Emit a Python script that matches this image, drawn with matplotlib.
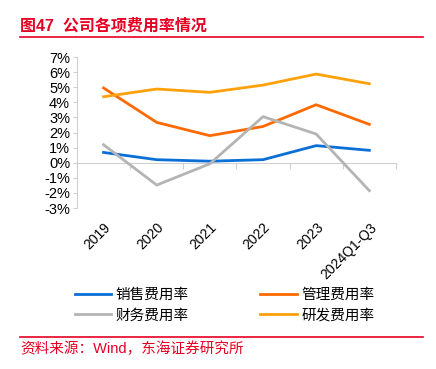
import matplotlib.pyplot as plt
import numpy as np
from matplotlib.ticker import FuncFormatter

plt.rcParams['font.family'] = ['Liberation Sans', 'Noto Sans CJK SC', 'DejaVu Sans']

# 数据（单位：%）
years = ["2019", "2020", "2021", "2022", "2023", "2024Q1-Q3"]
sales = [0.68, 0.20, 0.10, 0.20, 1.13, 0.82]
manage = [4.95, 2.67, 1.79, 2.40, 3.84, 2.54]
finance = [1.19, -1.48, -0.07, 3.05, 1.90, -1.85]
rnd = [4.37, 4.88, 4.66, 5.14, 5.87, 5.23]

RED = "#e60023"
GRID = "#d0d0d0"


def main():
    fig = plt.figure(figsize=(4.36, 3.69), dpi=100)
    ax = fig.add_axes([0.1766, 0.4363, 0.7314, 0.4092])

    x = np.arange(len(years))
    l1, = ax.plot(x, sales, color="#0a6fd6", lw=2, label="销售费用率")
    l2, = ax.plot(x, manage, color="#ff6a00", lw=2, label="管理费用率")
    l3, = ax.plot(x, finance, color="#b4b4b4", lw=2, label="财务费用率")
    l4, = ax.plot(x, rnd, color="#ffa10a", lw=2, label="研发费用率")

    ymin, ymax = -3, 7
    ax.set_ylim(ymin, ymax)
    ax.set_xlim(-0.5, len(years) - 0.5)
    ax.set_yticks(np.arange(ymin, ymax + 1, 1))
    ax.yaxis.set_major_formatter(FuncFormatter(lambda v, p: f"{v:.0f}%"))
    ax.tick_params(axis="y", length=3, color=GRID, labelsize=10.5, pad=2)

    ax.set_xticks(x)
    ax.set_xticklabels(years, rotation=45, ha="right", rotation_mode="anchor", fontsize=10)
    ax.tick_params(axis="x", length=0, pad=9)

    for s in ["top", "right", "bottom"]:
        ax.spines[s].set_visible(False)
    ax.spines["left"].set_color(GRID)

    # 0 轴线
    sec = ax.secondary_xaxis((0 - ymin) / (ymax - ymin))
    sec.set_xticks(np.arange(len(years) + 1) - 0.5)
    sec.set_xticklabels([])
    sec.tick_params(length=4, color=GRID, direction="out")
    sec.spines["bottom"].set_color(GRID)

    handles = [l1, l3, l2, l4]
    fig.legend(handles, [h.get_label() for h in handles], loc="upper left",
               bbox_to_anchor=(0.165, 0.228), ncol=2,
               frameon=False, fontsize=10.5, handlelength=2.5, handletextpad=0.3,
               columnspacing=4.9, labelspacing=0.45, borderaxespad=0, borderpad=0.2)

    # 标题与来源
    fig.text(0.046, 0.93, "图47  公司各项费用率情况", color=RED, fontsize=11.5,
             fontweight="bold", va="center")
    fig.add_artist(plt.Line2D([0.046, 0.97], [0.9, 0.9], color=RED, lw=1.2))
    fig.add_artist(plt.Line2D([0.046, 0.97], [0.087, 0.087], color=RED, lw=1.2))
    fig.text(0.046, 0.055, "资料来源：Wind，东海证券研究所", color=RED, fontsize=10.5, va="center")

    fig.savefig("out.png", dpi=100)


if __name__ == "__main__":
    main()
